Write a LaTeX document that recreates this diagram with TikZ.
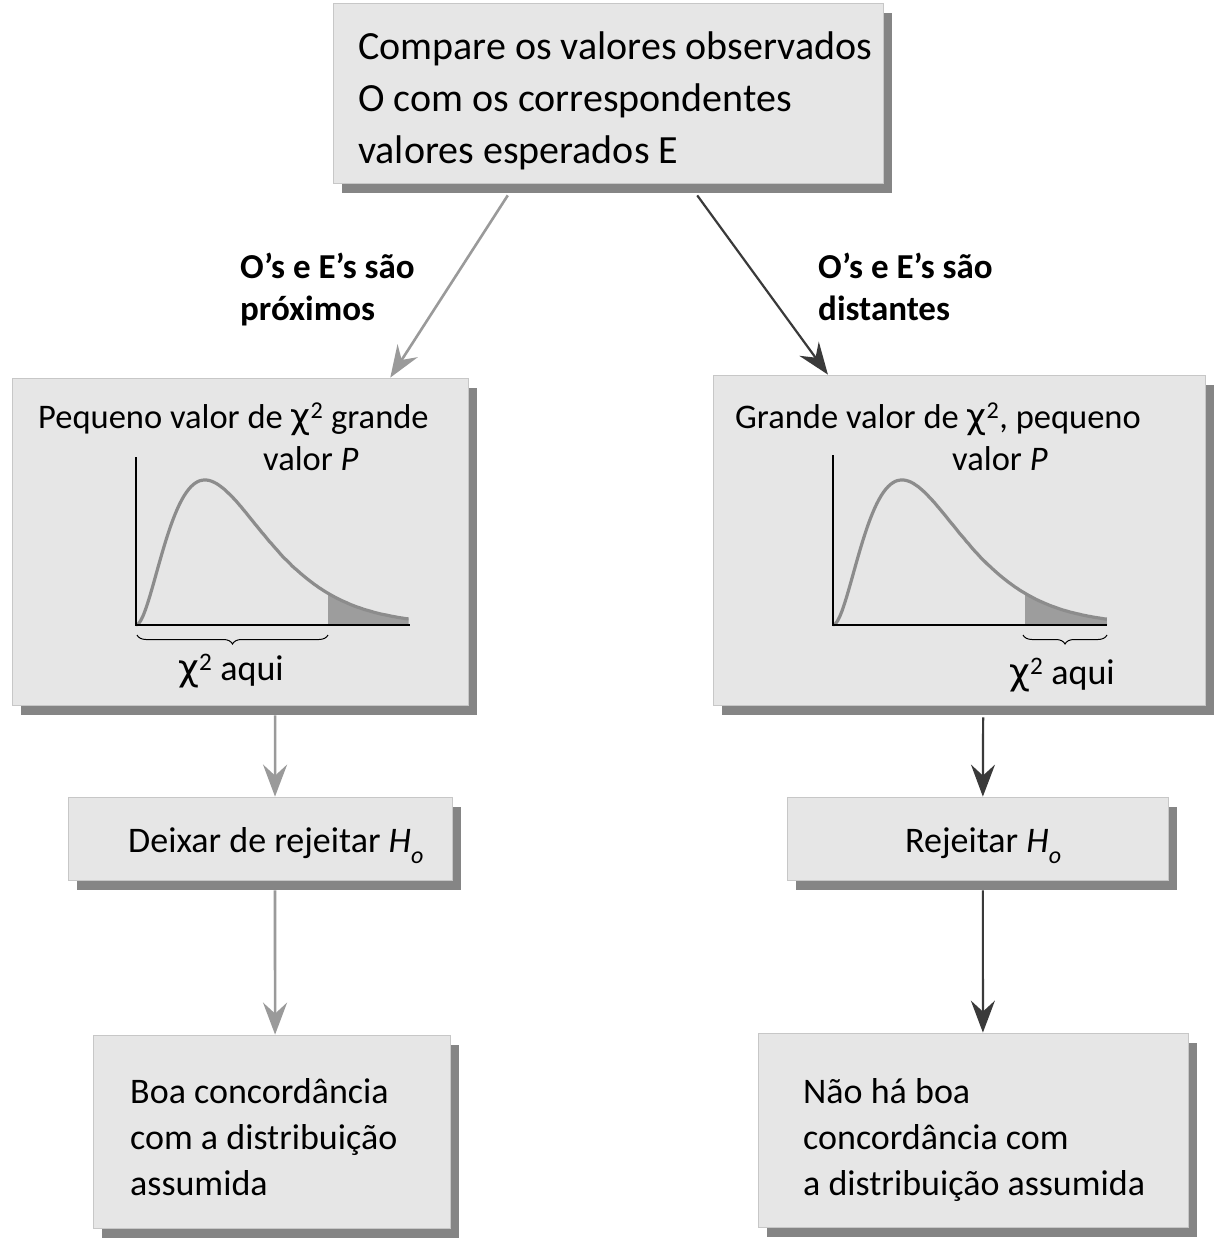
\documentclass[tikz,border=0pt]{standalone}
\usepackage{fontspec}
\setmainfont{Carlito}
\newfontfamily\greekfont{DejaVu Sans}
\usetikzlibrary{shadows,arrows.meta,calc,decorations.pathreplacing}
\definecolor{boxgray}{HTML}{E6E6E6}
\definecolor{shadowgray}{HTML}{858585}
\definecolor{lightarrow}{HTML}{9A9A9A}
\definecolor{darkarrow}{HTML}{3A3A3A}
\definecolor{curvegray}{HTML}{8C8C8C}
\newcommand{\Hsub}{\textit{H}\raisebox{-0.32em}{\fontsize{24}{24}\selectfont\textit{o}}}
\newcommand{\chisq}{{\greekfont χ}\textsuperscript{2}}
\begin{document}
\begin{tikzpicture}[x=1pt,y=-1pt,
  box/.style={fill=boxgray, draw=black!22, line width=0.8pt, inner sep=0pt,
    copy shadow={shadow xshift=9pt, shadow yshift=-10pt, fill=shadowgray, draw=none}},
  txt/.style={inner sep=0pt, anchor=base west, font=\fontsize{36}{44}\selectfont},
  midtxt/.style={inner sep=0pt, anchor=base west, font=\fontsize{34.5}{42}\selectfont},
  bigtxt/.style={inner sep=0pt, anchor=base west, font=\fontsize{40}{48}\selectfont},
  lbl/.style={inner sep=0pt, anchor=base west, font=\fontsize{35}{40}\selectfont\bfseries},
  arrL/.style={draw=lightarrow, line width=2.6pt, -{Stealth[length=32pt,width=24pt,inset=11pt]}},
  arrD/.style={draw=darkarrow, line width=2.2pt, -{Stealth[length=32pt,width=24pt,inset=11pt]}},
  axis/.style={draw=black, line width=1.3pt},
  curve/.style={draw=curvegray, line width=3.2pt},
  tail/.style={fill=curvegray!85},
  brc/.style={draw=black, line width=1pt, decorate, decoration={brace, mirror, amplitude=9pt}}
]
\path[use as bounding box, fill=white] (0,0) rectangle (1215,1241);

% boxes
\node[box, minimum width=550pt, minimum height=180pt] (top) at (608,93) {};
\node[box, minimum width=456pt, minimum height=327pt] (lmid) at (240,541.5) {};
\node[box, minimum width=492pt, minimum height=330pt] (rmid) at (959,540) {};
\node[box, minimum width=384pt, minimum height=83pt] (lsmall) at (260,838.5) {};
\node[box, minimum width=381pt, minimum height=83pt] (rsmall) at (977.5,838.5) {};
\node[box, minimum width=357pt, minimum height=193pt] (lbot) at (271.5,1131.5) {};
\node[box, minimum width=430pt, minimum height=194pt] (rbot) at (973,1130) {};

% top text
\node[bigtxt] (t1) at (358,60) {Compare os valores observados};
\node[bigtxt] (t2) at (358,112) {O com os correspondentes};
\node[bigtxt] (t3) at (358,164) {valores esperados E};

% branch labels
\node[lbl] (l1) at (240,278) {O’s e E’s são};
\node[lbl] (l2) at (240,320) {próximos};
\node[lbl] (r1) at (818,278) {O’s e E’s são};
\node[lbl] (r2) at (818,320) {distantes};

% left middle
\node[midtxt] (lm1) at (38,428) {Pequeno valor de \chisq{} grande};
\node[midtxt] (lm2) at (263,470) {valor \textit{P}};
\begin{scope}[shift={(136,625)}]
  \fill[tail] plot[domain=5.57:7.9, samples=40] ({34.5*\x},{-268*exp(-\x)*\x*\x}) -- (272.5,0) -- (192.2,0) -- cycle;
  \draw[curve] plot[domain=0:7.9, samples=120] ({34.5*\x},{-268*exp(-\x)*\x*\x});
  \draw[axis] (0,-168) -- (0,0) -- (274,0);
  \draw[brc] (1,10) -- (192,10);
\end{scope}
\node[inner sep=0pt, anchor=base, font=\fontsize{36}{44}\selectfont] (lm3) at (231,680) {\chisq{} aqui};

% right middle
\node[midtxt] (rm1) at (735,428) {Grande valor de \chisq, pequeno};
\node[midtxt] (rm2) at (952,470) {valor \textit{P}};
\begin{scope}[shift={(833,625)}]
  \fill[tail] plot[domain=5.57:7.94, samples=40] ({34.5*\x},{-268*exp(-\x)*\x*\x}) -- (274,0) -- (192.2,0) -- cycle;
  \draw[curve] plot[domain=0:7.94, samples=120] ({34.5*\x},{-268*exp(-\x)*\x*\x});
  \draw[axis] (0,-170) -- (0,0) -- (274,0);
  \draw[brc] (190,10) -- (274,10);
\end{scope}
\node[inner sep=0pt, anchor=base, font=\fontsize{36}{44}\selectfont] (rm3) at (1062,684) {\chisq{} aqui};

% small boxes text
\node[txt] (ls1) at (128,852) {Deixar de rejeitar \Hsub};
\node[txt] (rs1) at (905,852) {Rejeitar \Hsub};

% bottom boxes text
\node[txt] (lb1) at (130,1103) {Boa concordância};
\node[txt] (lb2) at (130,1149) {com a distribuição};
\node[txt] (lb3) at (130,1195) {assumida};
\node[txt] (rb1) at (803,1103) {Não há boa};
\node[txt] (rb2) at (803,1149) {concordância com};
\node[txt] (rb3) at (803,1195) {a distribuição assumida};

% connectors
\draw[arrL] ([yshift=-12pt]$(top.south west)!0.318!(top.south east)$) -- ($(lmid.north west)!0.829!(lmid.north east)$);
\draw[arrD] ([yshift=-12pt]$(top.south west)!0.662!(top.south east)$) -- ($(rmid.north west)!0.234!(rmid.north east)$);
\draw[arrL] ([yshift=-10pt]$(lmid.south west)!0.577!(lmid.south east)$) -- ($(lsmall.north west)!0.539!(lsmall.north east)$);
\draw[arrL] ([yshift=-10pt]$(lsmall.south west)!0.539!(lsmall.south east)$) -- ($(lbot.north west)!0.510!(lbot.north east)$);
\draw[arrD] ([yshift=-12pt]$(rmid.south west)!0.549!(rmid.south east)$) -- ($(rsmall.north west)!0.514!(rsmall.north east)$);
\draw[arrD] ([yshift=-10pt]$(rsmall.south west)!0.514!(rsmall.south east)$) -- ($(rbot.north west)!0.523!(rbot.north east)$);
\end{tikzpicture}
\end{document}
